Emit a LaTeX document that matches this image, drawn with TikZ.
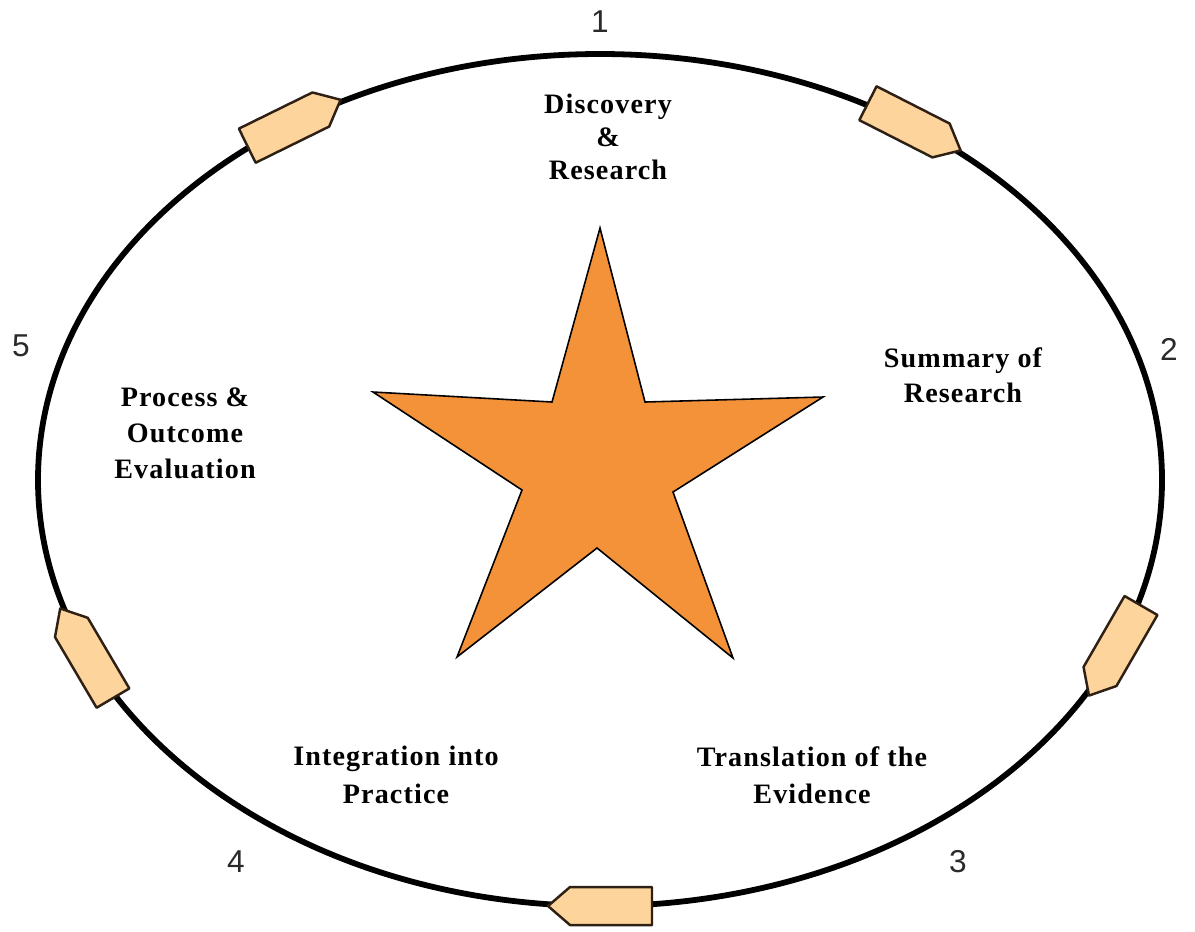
\documentclass[tikz,border=0pt]{standalone}
\usepackage{fontspec}
\setmainfont{Liberation Serif}
\newfontfamily\lblfont[LetterSpace=4]{Liberation Serif}
\newfontfamily\numfont{Liberation Sans}
\definecolor{starorange}{HTML}{F4923A}
\definecolor{peach}{HTML}{FDD49B}
\definecolor{edgebrown}{HTML}{2E2014}
\definecolor{numgrey}{HTML}{2A2A2A}
\tikzset{
  ring/.style={draw=black, line width=3.3pt},
  arrowbox/.style={draw=edgebrown, fill=peach, line width=1.4pt, line join=round},
  starshape/.style={draw=black, fill=starorange, line width=0.9pt, line join=miter},
  stagelabel/.style={font=\lblfont\bfseries\fontsize{16}{19}\selectfont, align=center, text=black, inner sep=0pt},
  numlabel/.style={font=\numfont\fontsize{18}{20}\selectfont, text=numgrey, inner sep=0pt}
}
\begin{document}
\begin{tikzpicture}[x=0.02cm,y=0.02cm]
\useasboundingbox (0,0) rectangle (1195,-931);
\fill[white] (0,0) rectangle (1195,-931);
% ring
\draw[ring] (600,-480) ellipse [x radius=562, y radius=426];
% arrows on the ring (clockwise)
\foreach \t/\r in {123/26.2, 56/-27, -23.6/-120, -90/180, -156/120.5}{
  \draw[arrowbox, shift={({600+562*cos(\t)},{-480+426*sin(\t)})}, rotate=\r]
    (-52,-19) -- (30,-19) -- (52,0) -- (30,19) -- (-52,19) -- cycle;
}
% star
\draw[starshape] (600,-228) -- (645,-402) -- (823,-397) -- (673,-492) -- (733,-658)
  -- (597,-548) -- (457,-657) -- (522,-490) -- (373,-392) -- (552,-402) -- cycle;
% stage labels
\node[stagelabel, font=\lblfont\bfseries\fontsize{16}{18.8}\selectfont] (s1) at (608,-137) {Discovery\\\&\\Research};
\node[stagelabel, font=\lblfont\bfseries\fontsize{16}{20}\selectfont] (s2) at (963,-375) {Summary of\\Research};
\node[stagelabel, font=\lblfont\bfseries\fontsize{16}{21.3}\selectfont] (s3) at (812,-775) {Translation of the\\Evidence};
\node[stagelabel, font=\lblfont\bfseries\fontsize{16}{21.5}\selectfont] (s4) at (396,-775) {Integration into\\Practice};
\node[stagelabel, font=\lblfont\bfseries\fontsize{16}{20.5}\selectfont] (s5) at (185,-433) {Process \&\\Outcome\\Evaluation};
% numbers
\node[numlabel] (n1) at (600,-22) {1};
\node[numlabel] (n2) at (1169,-349) {2};
\node[numlabel] (n3) at (958,-862) {3};
\node[numlabel] (n4) at (236,-862) {4};
\node[numlabel] (n5) at (21,-346) {5};
\end{tikzpicture}
\end{document}
